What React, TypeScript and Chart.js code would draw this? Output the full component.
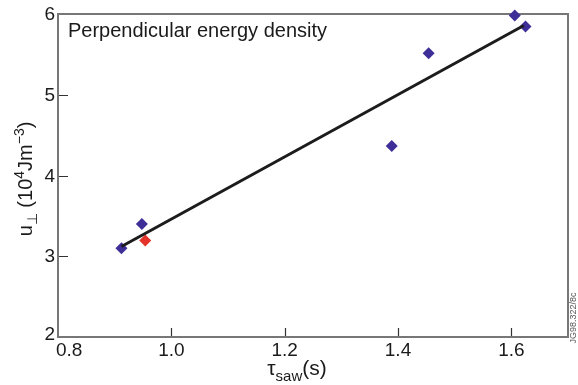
import React, { useEffect, useRef } from "react";
import { Chart, registerables } from "chart.js";

Chart.register(...registerables);

// ---- data ----
const blueX = [0.912, 0.948, 1.389, 1.454, 1.606, 1.625];
const blueY = [3.10, 3.40, 4.365, 5.515, 5.98, 5.845];
const redX = [0.954];
const redY = [3.195];
const fitX = [0.912, 1.622];
const fitY = [3.12, 5.858];
const xTicks = [0.8, 1.0, 1.2, 1.4, 1.6];
const xTickLabels = ["0.8", "1.0", "1.2", "1.4", "1.6"];
const yTicks = [2, 3, 4, 5, 6];
const yTickLabels = ["2", "3", "4", "5", "6"];
const annotationText = "Perpendicular energy density";
const figId = "JG98.322/8c";

const FONT = "'Liberation Sans', Arial, sans-serif";

type Seg = { t: string; size: number; dy: number };

function drawSegs(ctx: CanvasRenderingContext2D, segs: Seg[], x: number, y: number, center: boolean) {
  let total = 0;
  for (const s of segs) {
    ctx.font = `${s.size}px ${FONT}`;
    total += ctx.measureText(s.t).width;
  }
  let cx = center ? x - total / 2 : x;
  ctx.textBaseline = "alphabetic";
  ctx.textAlign = "left";
  for (const s of segs) {
    ctx.font = `${s.size}px ${FONT}`;
    ctx.fillText(s.t, cx, y + s.dy);
    cx += ctx.measureText(s.t).width;
  }
}

const framePlugin = {
  id: "frameAndLabels",
  beforeDatasetsDraw(chart: any) {
    const { ctx, chartArea: a, scales } = chart;
    const xs = scales.x;
    const ys = scales.y;
    ctx.save();
    // inner ticks
    ctx.strokeStyle = "#333";
    ctx.lineWidth = 1.2;
    ctx.beginPath();
    xTicks.forEach((v) => {
      if (v <= xs.min || v >= xs.max) return;
      const px = Math.round(xs.getPixelForValue(v)) + 0.5;
      ctx.moveTo(px, a.bottom);
      ctx.lineTo(px, a.bottom - 9);
    });
    yTicks.forEach((v) => {
      if (v <= ys.min || v >= ys.max) return;
      const py = Math.round(ys.getPixelForValue(v)) + 0.5;
      ctx.moveTo(a.left, py);
      ctx.lineTo(a.left + 10, py);
    });
    ctx.stroke();
    // frame
    ctx.strokeStyle = "#777";
    ctx.lineWidth = 2;
    ctx.strokeRect(a.left, a.top, a.right - a.left, a.bottom - a.top);

    // tick labels
    ctx.fillStyle = "#1a1a1a";
    ctx.font = `19px ${FONT}`;
    ctx.textBaseline = "middle";
    xTicks.forEach((v, i) => {
      const px = xs.getPixelForValue(v);
      if (i === 0) {
        ctx.textAlign = "left";
        ctx.fillText(xTickLabels[i], px - 2, 351);
      } else {
        ctx.textAlign = "center";
        ctx.fillText(xTickLabels[i], px, 351);
      }
    });
    ctx.textAlign = "right";
    yTicks.forEach((v, i) => {
      let py = ys.getPixelForValue(v);
      if (i === 0) py -= 3;
      ctx.fillText(yTickLabels[i], a.left - 3, py + 1);
    });

    // annotation
    ctx.font = `20px ${FONT}`;
    ctx.textAlign = "left";
    ctx.textBaseline = "alphabetic";
    ctx.fillText(annotationText, a.left + 10, 37);

    // x title
    drawSegs(
      ctx,
      [
        { t: "τ", size: 21, dy: 0 },
        { t: "saw", size: 15, dy: 6 },
        { t: "(s)", size: 21, dy: 0 },
      ],
      297,
      375,
      true
    );

    // y title (rotated)
    ctx.save();
    ctx.translate(32, 179);
    ctx.rotate(-Math.PI / 2);
    drawSegs(
      ctx,
      [
        { t: "u", size: 20, dy: 0 },
        { t: "⊥", size: 14, dy: 5 },
        { t: " (10", size: 20, dy: 0 },
        { t: "4", size: 14, dy: -8 },
        { t: "Jm", size: 20, dy: 0 },
        { t: "−3", size: 14, dy: -8 },
        { t: ")", size: 20, dy: 0 },
      ],
      0,
      0,
      true
    );
    ctx.restore();

    // figure id
    ctx.save();
    ctx.translate(576, 318);
    ctx.rotate(-Math.PI / 2);
    ctx.fillStyle = "#555";
    ctx.font = `9px ${FONT}`;
    ctx.textAlign = "center";
    ctx.textBaseline = "alphabetic";
    ctx.fillText(figId, 0, 0);
    ctx.restore();

    ctx.restore();
  },
};

export default function App() {
  const ref = useRef<HTMLCanvasElement | null>(null);
  useEffect(() => {
    document.body.style.margin = "0";
    const c = ref.current;
    if (!c) return;
    const chart = new Chart(c, {
      type: "scatter",
      data: {
        datasets: [
          {
            type: "line",
            data: fitX.map((x, i) => ({ x, y: fitY[i] })),
            borderColor: "#1c1c1c",
            borderWidth: 3,
            pointRadius: 0,
            fill: false,
            clip: false as any,
          } as any,
          {
            data: blueX.map((x, i) => ({ x, y: blueY[i] })),
            pointStyle: "rectRot",
            pointRadius: 6,
            backgroundColor: "#3e2f98",
            borderColor: "#3e2f98",
            borderWidth: 0,
            clip: false as any,
          },
          {
            data: redX.map((x, i) => ({ x, y: redY[i] })),
            pointStyle: "rectRot",
            pointRadius: 6,
            backgroundColor: "#e4332a",
            borderColor: "#e4332a",
            borderWidth: 0,
            clip: false as any,
          },
        ],
      },
      options: {
        responsive: false,
        animation: false,
        devicePixelRatio: 1,
        layout: { padding: { left: 58, right: 10, top: 14, bottom: 48 } },
        plugins: { legend: { display: false }, tooltip: { enabled: false } },
        scales: {
          x: { type: "linear", min: 0.8, max: 1.7, display: false },
          y: { type: "linear", min: 2, max: 6, display: false },
        },
      },
      plugins: [framePlugin],
    });
    return () => chart.destroy();
  }, []);
  return (
    <div style={{ position: "absolute", left: 0, top: 0, width: 578, height: 385, background: "#fff" }}>
      <canvas ref={ref} width={578} height={385} />
    </div>
  );
}
